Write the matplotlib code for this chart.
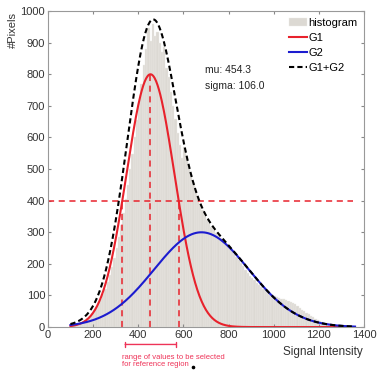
import matplotlib
matplotlib.use("Agg")
import matplotlib.pyplot as plt
from matplotlib.lines import Line2D
import numpy as np

plt.rcParams["font.family"] = ["Liberation Sans", "DejaVu Sans"]

# histogram of pixel intensities (bin width 10, from 100 to 1360)
bin_left = np.arange(100, 1360, 10)
hist_counts = [
    3, 5, 7, 10, 14, 18, 23, 29, 36, 44,
    53, 63, 75, 89, 105, 122, 142, 165, 190, 218,
    250, 285, 322, 362, 405, 450, 500, 548, 600, 655,
    710, 770, 830, 880, 945, 905, 960, 920, 935, 900,
    870, 885, 820, 790, 745, 700, 660, 615, 575, 535,
    570, 540, 505, 480, 455, 430, 410, 390, 370, 352,
    340, 330, 318, 306, 298, 290, 282, 272, 264, 258,
    250, 240, 232, 222, 212, 202, 192, 182, 172, 162,
    155, 148, 140, 133, 126, 120, 114, 108, 104, 100,
    97, 95, 93, 90, 88, 86, 84, 80, 76, 72,
    66, 60, 55, 50, 45, 40, 35, 31, 27, 23,
    20, 17, 14, 12, 10, 8, 6, 5, 4, 3,
    2, 2, 1, 1, 1, 0,
]

# fitted gaussian components: amplitude, mean, sigma
g1_params = (800, 454.3, 106.0)
g2_params = (300, 680, 210)
curve_range = (100, 1360)

# reference region bounds (half maximum of G1)
ref_low, ref_high = 330, 580
half_max = 400


def gauss(x, amp, mu, sigma):
    return amp * np.exp(-(x - mu) ** 2 / (2 * sigma ** 2))


fig = plt.figure(figsize=(3.8, 3.7), dpi=100)
ax = fig.add_axes([0.126, 0.116, 0.832, 0.854])

h_hist = ax.bar(bin_left, hist_counts, width=10, align="edge", color="#dcd9d3",
                edgecolor="#eeece8", linewidth=0.3, label="histogram", zorder=1)

x = np.linspace(curve_range[0], curve_range[1], 400)
g1 = gauss(x, *g1_params)
g2 = gauss(x, *g2_params)
h1, = ax.plot(x, g1, color="#e8222c", lw=1.5, label="G1", zorder=3)
h2, = ax.plot(x, g2, color="#1c1ccf", lw=1.5, label="G2", zorder=3)
h3, = ax.plot(x, g1 + g2, color="black", lw=1.5, ls=(0, (2.5, 1.5)),
              label="G1+G2", zorder=4)

red = "#e8222c"
ax.plot([0, 1350], [half_max, half_max], color=red, lw=1.1, ls=(0, (4, 3)), zorder=2)
for xv, top in [(ref_low, half_max), (g1_params[1], g1_params[0]), (ref_high, half_max)]:
    ax.plot([xv, xv], [0, top], color=red, lw=1.1, ls=(0, (4, 3)), zorder=2)

ax.text(695, 805, "mu: %.1f" % g1_params[1], fontsize=7.5, color="#222222")
ax.text(695, 755, "sigma: %.1f" % g1_params[2], fontsize=7.5, color="#222222")

ax.set_xlim(0, 1400)
ax.set_ylim(0, 1000)
ax.set_xticks(np.arange(0, 1401, 200))
ax.set_yticks(np.arange(0, 1001, 100))
ax.tick_params(direction="in", length=2.5, labelsize=8, colors="#888888",
               labelcolor="#333333", top=True, right=True, labelright=False,
               labeltop=False, pad=2)
for s in ax.spines.values():
    s.set_color("#999999")

fig.text(0.035, 0.92, "#Pixels", rotation=90, fontsize=8, color="#333333",
         ha="center", va="center")
fig.text(0.85, 0.048, "Signal Intensity", fontsize=8.5, color="#333333",
         ha="center", va="center")

# range annotation below the axis
pink = "#ee3358"
ax.annotate("", xy=(ref_low, -55), xytext=(ref_high, -55), xycoords="data",
            arrowprops=dict(arrowstyle="|-|", color=pink, lw=1, mutation_scale=2),
            annotation_clip=False)
ax.text(ref_low, -85, "range of values to be selected\nfor reference region",
        fontsize=5.5, color=pink, va="top", ha="left", linespacing=1.05,
        clip_on=False)
fig.add_artist(Line2D([0.508], [0.008], marker="o", markersize=1.6,
                      color="black", transform=fig.transFigure))

ax.legend([h_hist, h1, h2, h3], ["histogram", "G1", "G2", "G1+G2"],
          loc="upper right", frameon=False, fontsize=8, handlelength=1.6,
          handletextpad=0.1, labelspacing=0.45, borderaxespad=0.2)

fig.savefig("out.png", dpi=100)
